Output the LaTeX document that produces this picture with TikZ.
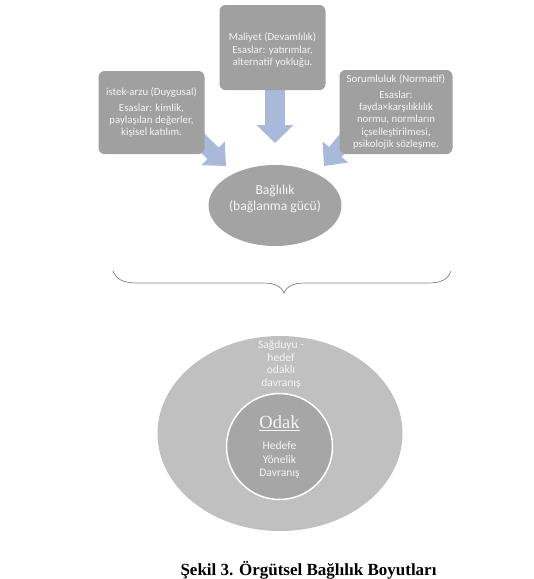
\documentclass[tikz,border=0pt]{standalone}
\usepackage{fontspec}
\setmainfont{Liberation Serif}
\newfontfamily\carlito{Carlito}
\usetikzlibrary{shapes.geometric,arrows.meta,backgrounds,calc}
\definecolor{boxgray}{HTML}{A0A0A0}
\definecolor{ellgray}{HTML}{A3A3A3}
\definecolor{biggray}{HTML}{C0C0C0}
\definecolor{innergray}{HTML}{A6A6A6}
\definecolor{arrowblue}{HTML}{A9B9DA}
\definecolor{txtwhite}{HTML}{F4F4F4}
\definecolor{bracecol}{HTML}{808080}
\tikzset{
  gbox/.style={rectangle, rounded corners=6pt, fill=boxgray, draw=none, inner sep=0pt,
    text=txtwhite, align=center, font=\carlito\fontsize{10.8}{12.3}\selectfont},
  wtext/.style={text=txtwhite, align=center, inner sep=0pt},
  blockarrow/.style={arrowblue, line width=#1},
}
\begin{document}
\begin{tikzpicture}[x=1pt,y=-1pt]
\useasboundingbox (0,0) rectangle (534,579);
\clip (0,0) rectangle (534,579);

% boxes
\node[gbox, minimum width=106pt, minimum height=85pt, text depth=0pt] (tbox) at (272.5,47.5) {};
\node[wtext, font=\carlito\fontsize{10.8}{12.3}\selectfont] (ttext) at (272.5,50) {Maliyet (Devamlılık)\\Esaslar: yatırımlar,\\alternatif yokluğu.};
\node[gbox, minimum width=106pt, minimum height=83pt] (lbox) at (151.5,112.5)
  {istek-arzu (Duygusal)\\[3.5pt]Esaslar: kimlik,\\paylaşılan değerler,\\kişisel katılım.};
\node[gbox, minimum width=113pt, minimum height=84pt] (rbox) at (396,112)
  {Sorumluluk (Normatif)\\[3.5pt]Esaslar:\\fayda×karşılıklılık\\normu, normların\\içselleştirilmesi,\\psikolojik sözleşme.};

% central ellipse
\node[ellipse, fill=ellgray, draw=none, minimum width=133pt, minimum height=81pt, inner sep=0pt] (bag) at (275,205.5) {};
\node[wtext, font=\carlito\fontsize{13.6}{16}\selectfont] (bagtext) at (275,199) {Bağlılık\\(bağlanma gücü)};

% arrows behind
\coordinate (ltip) at (226,166);
\coordinate (rtip) at (324,166);
\coordinate (ttip) at (275,143);
\begin{scope}[on background layer]
  \draw[blockarrow=16pt, -{Triangle[width=32pt,length=18pt]}] ($(lbox.south east)+(-9,-18)$) -- (ltip);
  \draw[blockarrow=16pt, -{Triangle[width=32pt,length=18pt]}] ($(rbox.south west)+(9,-18)$) -- (rtip);
  \draw[blockarrow=20pt, -{Triangle[width=36pt,length=18pt]}] (tbox.south -| ttip) -- (ttip);
\end{scope}

% brace
\coordinate (bl) at (113,271);
\coordinate (bt) at (284,293);
\coordinate (br) at (451,271);
\draw[bracecol, line width=0.7pt] (bl) .. controls (116,279) and (123,283) .. (137,283)
  -- (262,283) .. controls (275,283) and (281,286) .. (bt)
  .. controls (287,286) and (293,283) .. (306,283) -- (428,283)
  .. controls (442,283) and (448,279) .. (br);

% lower ellipses
\node[ellipse, fill=biggray, draw=none, minimum width=245pt, minimum height=195pt, inner sep=0pt] (big) at (280,433.5) {};
\node[circle, fill=innergray, draw=white, line width=1.5pt, minimum size=106pt, inner sep=0pt] (inner) at (279.5,446.5) {};
\node[wtext, font=\carlito\fontsize{11.6}{12.8}\selectfont] (sag) at (281,364.5) {Sağduyu -\\hedef\\odaklı\\davranış};
\node[wtext, font=\fontsize{18.5}{20}\selectfont] (odak) at (279.5,423) {\underline{Odak}};
\node[wtext, font=\carlito\fontsize{11.6}{13.3}\selectfont] (hyd) at (279.5,460) {Hedefe\\Yönelik\\Davranış};

% caption
\node[inner sep=0pt, anchor=base, font=\bfseries\fontsize{17}{19}\selectfont] (cap) at (308.5,575) {Şekil 3. Örgütsel Bağlılık Boyutları};
\end{tikzpicture}
\end{document}
